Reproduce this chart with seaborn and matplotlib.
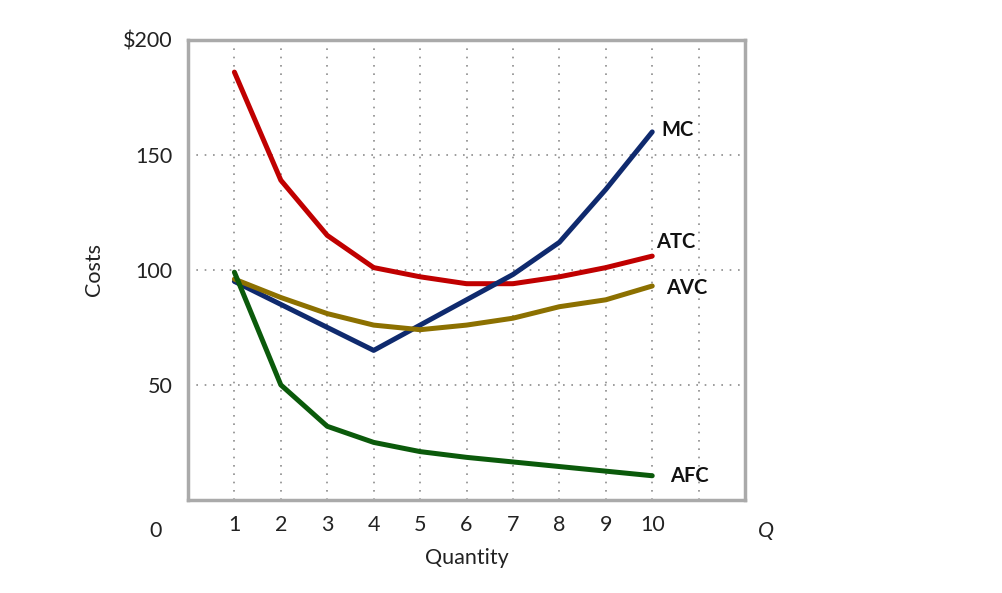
import numpy as np
import pandas as pd
import matplotlib
matplotlib.use("Agg")
import matplotlib.pyplot as plt
import seaborn as sns

# 数据
quantity = [1, 2, 3, 4, 5, 6, 7, 8, 9, 10]
atc = [186, 139, 115, 101, 97, 94, 94, 97, 101, 106]
mc = [95, 85, 75, 65, 76, 87, 98, 112, 135, 160]
avc = [96, 88, 81, 76, 74, 76, 79, 84, 87, 93]
afc = [99, 50, 32, 25, 21, 18.5, 16.5, 14.5, 12.5, 10.5]

series_names = ["ATC", "MC", "AVC", "AFC"]
y_ticks = [50, 100, 150, 200]
y_tick_labels = ["50", "100", "150", "$200"]
x_ticks = [1, 2, 3, 4, 5, 6, 7, 8, 9, 10]

colors = {"ATC": "#c00000", "MC": "#0f2a6e", "AVC": "#8c7000", "AFC": "#0b5a0b"}

sns.set_theme(style="white")
plt.rcParams['font.family'] = ['Lato', 'DejaVu Sans']

df = pd.DataFrame({"Quantity": quantity, "ATC": atc, "MC": mc, "AVC": avc, "AFC": afc})
long_df = df.melt(id_vars="Quantity", var_name="curve", value_name="Costs")

fig = plt.figure(figsize=(10.02, 5.93), dpi=100)
ax = fig.add_axes([0.1876, 0.157, 0.556, 0.7757])

sns.lineplot(data=long_df, x="Quantity", y="Costs", hue="curve", hue_order=series_names,
             palette=colors, linewidth=3.6, legend=False, ax=ax, zorder=3)

ax.set_xlim(0, 12)
ax.set_ylim(0, 200)

# 网格：竖线 1..11，横线 50/100/150
for q in range(1, 12):
    ax.axvline(q, color="#8c8c8c", linestyle=(0, (1, 4)), linewidth=1.2, zorder=1)
for v in [50, 100, 150]:
    ax.axhline(v, color="#8c8c8c", linestyle=(0, (1, 4)), linewidth=1.2, zorder=1)

ax.set_yticks(y_ticks)
ax.set_yticklabels(y_tick_labels, fontsize=15.5, color="#222222")
ax.set_xticks(x_ticks)
ax.set_xticklabels([str(q) for q in x_ticks], fontsize=15.5, color="#222222")
ax.tick_params(axis="x", length=0, pad=11)
ax.tick_params(axis="y", length=0, pad=11)

for s in ax.spines.values():
    s.set_color("#aaaaaa")
    s.set_linewidth(2.5)

ax.set_xlabel("Quantity", fontsize=15.5, color="#222222", labelpad=9)
ax.set_ylabel("Costs", fontsize=15.5, color="#222222", labelpad=14)

# 曲线标签
label_pos = {"MC": (10.55, 161), "ATC": (10.5, 112), "AVC": (10.75, 92), "AFC": (10.8, 10.5)}
for name, (lx, ly) in label_pos.items():
    ax.text(lx, ly, name, fontsize=14.5, fontweight="bold", color="#111111",
            ha="center", va="center")

# 原点 0 和 Q
trans = ax.get_xaxis_transform()
ax.text(-0.7, -0.045, "0", transform=trans, fontsize=15.5, color="#222222",
        ha="center", va="top", clip_on=False)
ax.text(12.45, -0.045, "Q", transform=trans, fontsize=15.5, color="#222222",
        fontstyle="italic", ha="center", va="top", clip_on=False)

fig.savefig("out.png", dpi=100)
